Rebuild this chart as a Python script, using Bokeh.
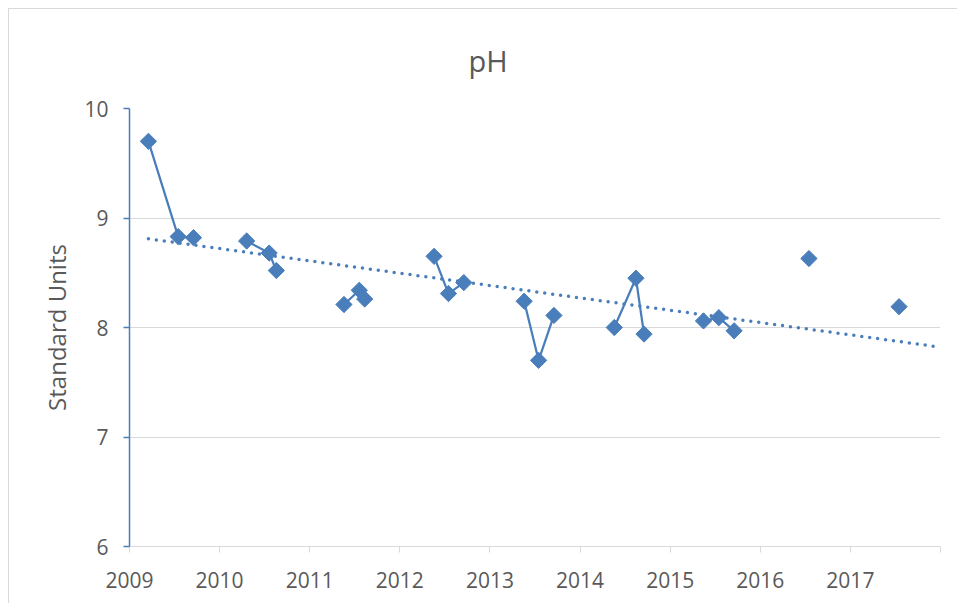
import numpy as np
from bokeh.plotting import figure
from bokeh.models import FixedTicker
from bokeh.embed import file_html
from bokeh.resources import INLINE

# Sample dates (decimal years) and pH values
dates = [2009.21, 2009.54, 2009.71,
         2010.30, 2010.55, 2010.63,
         2011.38, 2011.55, 2011.61,
         2012.38, 2012.54, 2012.71,
         2013.38, 2013.54, 2013.71,
         2014.38, 2014.62, 2014.71,
         2015.37, 2015.54, 2015.71,
         2016.54,
         2017.54]
ph = [9.70, 8.83, 8.82,
      8.79, 8.68, 8.52,
      8.21, 8.34, 8.26,
      8.65, 8.31, 8.41,
      8.24, 7.70, 8.11,
      8.00, 8.45, 7.94,
      8.06, 8.09, 7.97,
      8.63,
      8.19]

# Linear trendline (as drawn in the reference)
trend_x = [2009.21, 2018.0]
trend_y = [8.81, 7.82]

x_ticks = list(range(2009, 2019))
y_ticks = [6, 7, 8, 9, 10]

BLUE = "#4a7ebb"
GRAY_TXT = "#595959"
GRID = "#d9d9d9"
FONT = "Open Sans"

# Build line path: break between different years (gaps in the series)
lx, ly = [], []
prev = None
for d, v in zip(dates, ph):
    yr = int(d)
    if prev is not None and yr != prev:
        lx.append(np.nan)
        ly.append(np.nan)
    lx.append(d)
    ly.append(v)
    prev = yr

p = figure(width=949, height=595, x_range=(2009, 2018), y_range=(6, 10),
           output_backend="svg", toolbar_location=None,
           min_border_left=120, min_border_right=18,
           min_border_top=99, min_border_bottom=58,
           styles={"margin-left": "8px", "margin-top": "8px",
                   "border-left": "1px solid #d9d9d9", "border-top": "1px solid #d9d9d9"})

p.background_fill_color = "white"
p.border_fill_color = "white"
p.outline_line_color = None

p.title.text = "pH"
p.title.align = "left"
p.title.text_font = FONT
p.title.text_font_size = "29px"
p.title.text_font_style = "normal"
p.title.text_color = GRAY_TXT
p.title.offset = 339
p.title.standoff = 57

# x axis
p.xaxis.ticker = FixedTicker(ticks=x_ticks)
p.xaxis.major_label_overrides = {2018: ""}
p.xaxis.axis_line_color = GRID
p.xaxis.axis_line_width = 1
p.xaxis.major_tick_line_color = GRID
p.xaxis.major_tick_out = 6
p.xaxis.major_tick_in = 0
p.xaxis.minor_tick_line_color = None
p.xaxis.major_label_text_font = FONT
p.xaxis.major_label_text_font_size = "21px"
p.xaxis.major_label_text_color = GRAY_TXT
p.xaxis.major_label_standoff = 19

# y axis
p.yaxis.ticker = FixedTicker(ticks=y_ticks)
p.yaxis.axis_line_color = BLUE
p.yaxis.axis_line_width = 1.5
p.yaxis.major_tick_line_color = BLUE
p.yaxis.major_tick_line_width = 1.5
p.yaxis.major_tick_out = 6
p.yaxis.major_tick_in = 0
p.yaxis.minor_tick_line_color = None
p.yaxis.major_label_text_font = FONT
p.yaxis.major_label_text_font_size = "21px"
p.yaxis.major_label_text_color = GRAY_TXT
p.yaxis.major_label_standoff = 15
p.yaxis.axis_label = "Standard Units"
p.yaxis.axis_label_text_font = FONT
p.yaxis.axis_label_text_font_size = "24px"
p.yaxis.axis_label_text_font_style = "normal"
p.yaxis.axis_label_text_color = GRAY_TXT
p.yaxis.axis_label_standoff = 8

p.xgrid.grid_line_color = None
p.ygrid.grid_line_color = GRID
p.ygrid.grid_line_width = 1

# trendline
p.line(trend_x, trend_y, line_color=BLUE, line_width=3.5, line_dash="0 8", line_cap="round")

# series
p.line(lx, ly, line_color=BLUE, line_width=2.25)
p.scatter(dates, ph, marker="square", size=11.5, angle=np.pi / 4,
          fill_color=BLUE, line_color=BLUE, line_width=1)

open("out.html", "w").write(file_html(p, INLINE))
